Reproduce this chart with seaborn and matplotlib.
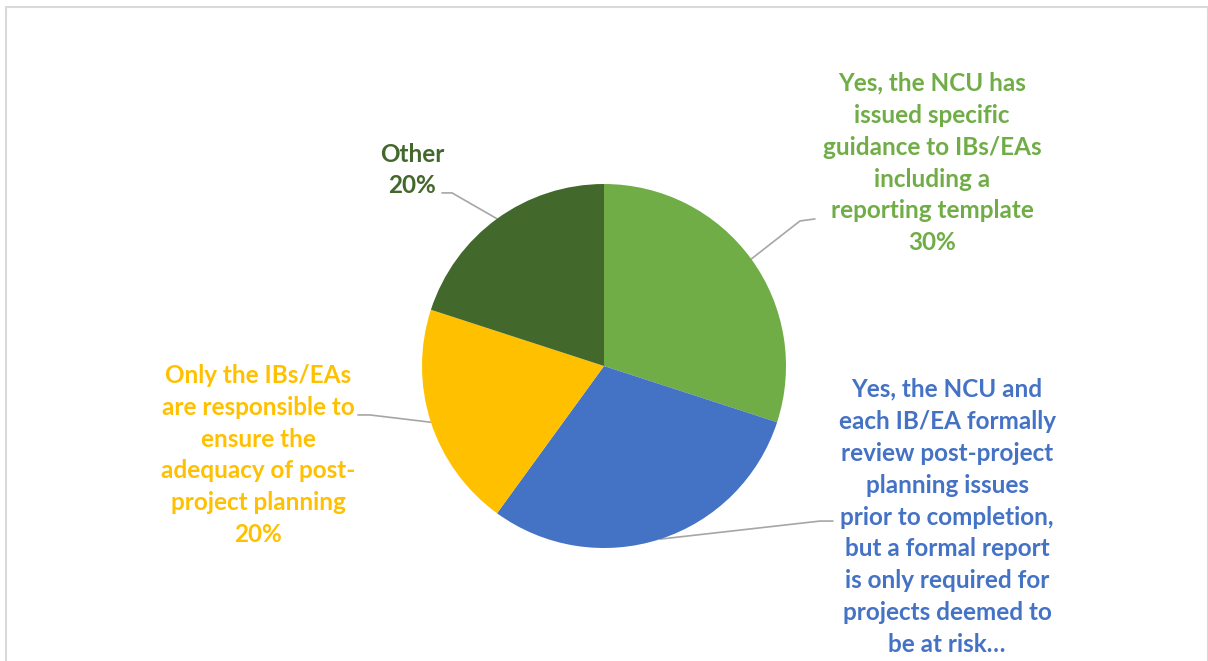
import matplotlib
matplotlib.use("Agg")
import matplotlib.pyplot as plt
import seaborn as sns
import numpy as np
from matplotlib.patches import Rectangle

sns.set_theme(style="white")
plt.rcParams['font.family'] = ['Lato', 'DejaVu Sans']

categories = [
    "Yes, the NCU has\nissued specific\nguidance to IBs/EAs\nincluding a\nreporting template",
    "Yes, the NCU and\neach IB/EA formally\nreview post-project\nplanning issues\nprior to completion,\nbut a formal report\nis only required for\nprojects deemed to\nbe at risk\u2026",
    "Only the IBs/EAs\nare responsible to\nensure the\nadequacy of post-\nproject planning",
    "Other",
]
values = [30, 30, 20, 20]
show_pct = [True, False, True, True]  # the long label is truncated in the original
colors = ["#70AD47", "#4472C4", "#FFC000", "#43682B"]

W, H = 1208, 661
fig = plt.figure(figsize=(W / 100, H / 100), dpi=100)
cx, cy, r = 604, 366, 182
ax = fig.add_axes([(cx - r) / W, (H - cy - r) / H, 2 * r / W, 2 * r / H])
wedges, _ = ax.pie(values, colors=colors, startangle=90, counterclock=False,
                   radius=1, wedgeprops=dict(linewidth=0))
ax.set_xlim(-1, 1)
ax.set_ylim(-1, 1)
ax.set_aspect("equal")
ax.axis("off")

# label layout (data coords, pie radius = 1)
text_pos = [(1.802, 1.115), (1.885, -0.830), (-1.901, -0.489), (-1.055, 1.077)]
elbow = [(1.077, 0.797), (1.187, -0.852), (-1.286, -0.269), (-0.835, 0.951)]
stub = [(1.159, 0.808), (1.258, -0.852), (-1.352, -0.269), (-0.890, 0.951)]

for w, lab, v, sp, col, tp, el, st in zip(wedges, categories, values, show_pct, colors,
                                          text_pos, elbow, stub):
    ang = np.deg2rad((w.theta1 + w.theta2) / 2)
    ex, ey = np.cos(ang), np.sin(ang)
    ax.plot([ex, el[0], st[0]], [ey, el[1], st[1]], color="#A6A6A6", lw=1.2,
            clip_on=False, zorder=0)
    txt = f"{lab}\n{v}%" if sp else lab
    ax.text(tp[0], tp[1], txt, ha="center", va="center", color=col,
            fontsize=17.5, fontweight="bold", linespacing=1.47, clip_on=False)

fig.patches.append(Rectangle((6 / W, -0.1), (W - 6) / W, (H - 7) / H + 0.1,
                             transform=fig.transFigure, fill=False,
                             edgecolor="#D9D9D9", lw=1.5))
fig.savefig("out.png", dpi=100)
